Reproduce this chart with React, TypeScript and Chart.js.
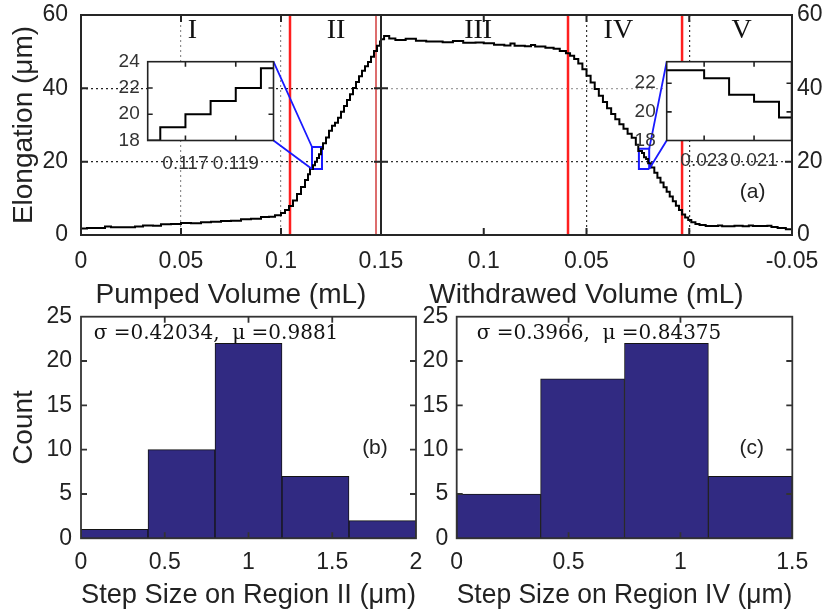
import { useEffect, useRef } from 'react';
import { Chart, registerables } from 'chart.js';

Chart.register(...registerables);

// ---------------- data ----------------
// (pumped volume mL, elongation µm)
const pumpedCurve: Array<[number, number]> = [
  [0, 1.8], [0.003, 1.9], [0.012, 2.3], [0.015, 2.1], [0.027, 2.3], [0.031, 2.6], [0.036, 2.5],
  [0.04, 2.9], [0.045, 3.0], [0.05, 3.3], [0.055, 3.2], [0.06, 3.5], [0.065, 3.6], [0.07, 3.8],
  [0.075, 3.9], [0.08, 4.3], [0.085, 4.4], [0.09, 4.9], [0.094, 5.0], [0.097, 5.4], [0.1, 6.0],
  [0.102, 6.8], [0.104, 7.9], [0.106, 9.4], [0.108, 11.2], [0.11, 13.1], [0.112, 15.0], [0.1135, 16.6],
  [0.1145, 18.0], [0.116, 19.0], [0.117, 20.0], [0.118, 21.0], [0.119, 22.0], [0.12, 23.5], [0.121, 25.0],
  [0.1225, 26.6], [0.124, 28.4], [0.1255, 29.8], [0.127, 30.6], [0.1285, 32.0], [0.13, 33.6], [0.1315, 35.2],
  [0.133, 36.8], [0.1345, 38.4], [0.136, 40.1], [0.1375, 41.7], [0.139, 43.3], [0.1405, 44.8], [0.142, 46.0],
  [0.1435, 47.2], [0.145, 48.6], [0.1465, 50.2], [0.148, 51.6], [0.1495, 52.8], [0.15, 53.4],
];
// (withdrawn volume mL, elongation µm)
const withdrawnCurve: Array<[number, number]> = [
  [0.15, 53.4], [0.1485, 54.3], [0.146, 53.6], [0.143, 53.2], [0.138, 53.5], [0.133, 53.0], [0.128, 52.8],
  [0.12, 52.6], [0.115, 52.9], [0.11, 52.4], [0.104, 52.5], [0.1, 52.3], [0.095, 51.9], [0.09, 51.7],
  [0.087, 52.2], [0.085, 51.6], [0.08, 51.5], [0.077, 51.8], [0.075, 51.4], [0.07, 51.1], [0.066, 50.8],
  [0.063, 50.2], [0.06, 49.6], [0.058, 48.9], [0.056, 48.0], [0.054, 46.8], [0.052, 45.2], [0.05, 43.4],
  [0.048, 41.6], [0.046, 39.8], [0.044, 38.0], [0.042, 36.3], [0.04, 34.6], [0.038, 33.0], [0.036, 31.6],
  [0.034, 30.2], [0.032, 29.0], [0.03, 27.6], [0.028, 26.5], [0.026, 24.6], [0.0248, 22.9], [0.023, 22.35],
  [0.022, 21.2], [0.021, 20.7], [0.02, 19.6], [0.0185, 18.4], [0.017, 17.0], [0.0155, 15.6], [0.014, 14.3],
  [0.0125, 13.0], [0.011, 11.8], [0.0095, 10.5], [0.008, 9.2], [0.0065, 8.0], [0.005, 6.8], [0.0035, 5.6],
  [0.002, 4.8], [0.0005, 4.1], [-0.001, 3.5], [-0.003, 3.0], [-0.005, 2.7], [-0.008, 2.45], [-0.014, 2.6],
  [-0.016, 2.4], [-0.022, 2.5], [-0.026, 2.4], [-0.029, 2.6], [-0.031, 2.45], [-0.038, 2.5], [-0.04, 2.2],
  [-0.043, 1.9], [-0.047, 1.6], [-0.05, 1.6],
];
const boundariesPumped = [0.1045, 0.1475];
const boundariesWithdrawn = [0.059, 0.0035];
const regionLabels = ['I', 'II', 'III', 'IV', 'V'];

const pumpedRange = [0, 0.15];
const withdrawnRange = [-0.05, 0.15];
const elongationRange = [0, 60];
const pumpedGridX = [0.05, 0.1];
const withdrawnGridX = [0.05, 0];
const elongationGridY = [20, 40];

const zoomIIX = [0.1155, 0.1205];
const zoomIIY = [18, 24];
const zoomIIXTicks = [0.117, 0.119];
const zoomIIYTicks = [18, 20, 22, 24];
const zoomIVX = [0.0195, 0.0245];
const zoomIVY = [18, 23.5];
const zoomIVXTicks = [0.023, 0.021];
const zoomIVYTicks = [18, 20, 22];

const histIIEdges = [0, 0.4, 0.8, 1.2, 1.6, 2.0];
const histIICounts = [1, 10, 22, 7, 2];
const histIVEdges = [0, 0.375, 0.75, 1.125, 1.5];
const histIVCounts = [5, 18, 22, 7];
const statsII = 'σ =0.42034,  μ =0.9881';
const statsIV = 'σ =0.3966,  μ =0.84375';

// ---------------- layout / style ----------------
const W = 832;
const H = 613;
const SANS = "'Liberation Sans', Arial, Helvetica, sans-serif";
const SERIF = "'Liberation Serif', 'Times New Roman', serif";
const MATH = "'DejaVu Serif', serif";
const TXT = '#222';

type Area = { left: number; top: number; right: number; bottom: number };
const MAIN_L: Area = { left: 81, top: 15, right: 381, bottom: 235 };
const MAIN_R: Area = { left: 381, top: 15, right: 792, bottom: 235 };
const INSET_L: Area = { left: 147.7, top: 61.7, right: 273.5, bottom: 140.5 };
const INSET_R: Area = { left: 666.7, top: 61.7, right: 791.5, bottom: 140.5 };
const HIST_L: Area = { left: 81, top: 316.7, right: 416, bottom: 538.3 };
const HIST_R: Area = { left: 456.7, top: 316.7, right: 792.3, bottom: 538.3 };

function pad(a: Area, yW: number, yPos: 'left' | 'right', xH: number) {
  return yPos === 'left'
    ? { left: a.left - yW, right: W - a.right, top: a.top, bottom: H - a.bottom - xH }
    : { left: a.left, right: W - a.right - yW, top: a.top, bottom: H - a.bottom - xH };
}
const near = (v: any, arr: number[]) => typeof v === 'number' && arr.some((a) => Math.abs(a - v) < 1e-9);
const fmt = (v: any) => String(Math.round(Number(v) * 1000) / 1000);
const pts = (arr: Array<[number, number]>) => arr.map(([x, y]) => ({ x, y }));
const vline = (x: number) => [{ x, y: elongationRange[0] }, { x, y: elongationRange[1] }];
const rect = (xr: number[], yr: number[]) => [
  { x: xr[0], y: yr[0] }, { x: xr[1], y: yr[0] }, { x: xr[1], y: yr[1] }, { x: xr[0], y: yr[1] }, { x: xr[0], y: yr[0] },
];
const bars = (edges: number[], counts: number[]) =>
  counts.map((c, i) => ({ x: (edges[i] + edges[i + 1]) / 2, y: c }));

// force exact axis box sizes and remove label overflow padding
const fixH = (h: number) => (s: any) => {
  s.height = h;
  s.paddingTop = 0; s.paddingBottom = 0; s.paddingLeft = 0; s.paddingRight = 0;
};
const fixW = (w: number) => (s: any) => {
  s.width = w;
  s.paddingTop = 0; s.paddingBottom = 0; s.paddingLeft = 0; s.paddingRight = 0;
};

// ---------------- plugins ----------------
const framePlugin = {
  id: 'frame',
  beforeDraw(chart: any, _a: any, o: any) {
    if (!o || !o.fill) return;
    const { ctx, chartArea: a } = chart;
    ctx.save();
    ctx.fillStyle = o.fill;
    ctx.fillRect(a.left, a.top, a.right - a.left, a.bottom - a.top);
    ctx.restore();
  },
  afterDraw(chart: any, _a: any, o: any) {
    if (!o || !o.enabled) return;
    const { ctx, chartArea: a } = chart;
    const len = o.tickLen ?? 6;
    const xs = chart.scales.x;
    const ys = chart.scales.y;
    ctx.save();
    ctx.setLineDash([]);
    ctx.strokeStyle = o.color ?? '#222';
    ctx.lineWidth = o.width ?? 2;
    ctx.beginPath();
    for (const t of xs.ticks) {
      const p = xs.getPixelForValue(t.value);
      if (p <= a.left + 2 || p >= a.right - 2) continue;
      ctx.moveTo(p, a.bottom); ctx.lineTo(p, a.bottom - len);
      ctx.moveTo(p, a.top); ctx.lineTo(p, a.top + len);
    }
    for (const t of ys.ticks) {
      const p = ys.getPixelForValue(t.value);
      if (p <= a.top + 2 || p >= a.bottom - 2) continue;
      ctx.moveTo(a.left, p); ctx.lineTo(a.left + len, p);
      ctx.moveTo(a.right, p); ctx.lineTo(a.right - len, p);
    }
    ctx.stroke();
    ctx.strokeRect(a.left, a.top, a.right - a.left, a.bottom - a.top);
    ctx.restore();
  },
};

const notesPlugin = {
  id: 'notes',
  afterDraw(chart: any, _a: any, o: any) {
    const items = o && o.items;
    if (!items) return;
    const { ctx } = chart;
    const xs = chart.scales.x;
    const ys = chart.scales.y;
    ctx.save();
    for (const it of items) {
      ctx.font = it.font;
      ctx.fillStyle = it.color ?? '#111';
      ctx.textAlign = 'center';
      ctx.textBaseline = 'middle';
      ctx.fillText(it.text, xs.getPixelForValue(it.x), ys.getPixelForValue(it.y));
    }
    ctx.restore();
  },
};

const connectPlugin = {
  id: 'connect',
  afterDatasetsDraw(chart: any, _a: any, o: any) {
    const lines = o && o.lines;
    if (!lines) return;
    const { ctx } = chart;
    const xs = chart.scales.x;
    const ys = chart.scales.y;
    ctx.save();
    ctx.strokeStyle = o.color ?? '#1a1aff';
    ctx.lineWidth = o.width ?? 1.5;
    ctx.beginPath();
    for (const l of lines) {
      ctx.moveTo(l.px, l.py);
      ctx.lineTo(xs.getPixelForValue(l.x), ys.getPixelForValue(l.y));
    }
    ctx.stroke();
    ctx.restore();
  },
};

const PLUGINS = [framePlugin, notesPlugin, connectPlugin];

function base(padding: any, plugins: any, scales: any) {
  return {
    responsive: false,
    animation: false,
    devicePixelRatio: 1,
    events: [],
    layout: { padding, autoPadding: false },
    plugins: { legend: { display: false }, tooltip: { enabled: false }, ...plugins },
    elements: { point: { radius: 0 }, line: { tension: 0 } },
    scales,
  };
}

const tickFont = (size: number) => ({ family: SANS, size });
const titleOpts = (text: string, p: any) => ({
  display: true, text, color: TXT, font: { family: SANS, size: 28, lineHeight: 1 }, padding: p,
});
const dotted = { display: false, dash: [2, 3] };
const BLACK_LINE = { borderColor: '#000', borderWidth: 2, stepped: true, pointRadius: 0, fill: false };
const RED = '#ff1f1f';
const BLUE = '#1a1aff';
const REGION_FONT = `28px ${SERIF}`;
const LABEL_Y = 55.6;

function mainLeftConfig(): any {
  return {
    type: 'line',
    data: {
      datasets: [
        { ...BLACK_LINE, data: pts(pumpedCurve) },
        { data: vline(boundariesPumped[0]), borderColor: RED, borderWidth: 2.5, pointRadius: 0 },
        { data: vline(boundariesPumped[1]), borderColor: '#d23c3c', borderWidth: 1.5, pointRadius: 0 },
        { data: rect(zoomIIX, zoomIIY), borderColor: BLUE, borderWidth: 2, pointRadius: 0 },
      ],
    },
    options: base(pad(MAIN_L, 81, 'left', 75), {
      frame: { enabled: true, width: 2, color: '#262626', tickLen: 7 },
      notes: {
        items: [
          { text: regionLabels[0], x: 0.0557, y: LABEL_Y, font: REGION_FONT },
          { text: regionLabels[1], x: 0.1275, y: LABEL_Y, font: REGION_FONT },
        ],
      },
      connect: {
        color: BLUE, width: 1.8,
        lines: [
          { px: INSET_L.right, py: INSET_L.top, x: zoomIIX[0], y: zoomIIY[1] },
          { px: INSET_L.right, py: INSET_L.bottom, x: zoomIIX[0], y: zoomIIY[0] },
        ],
      },
    }, {
      x: {
        type: 'linear', min: pumpedRange[0], max: pumpedRange[1],
        afterFit: fixH(75),
        ticks: { stepSize: 0.05, autoSkip: false, maxRotation: 0, padding: 13, color: TXT, font: tickFont(23), callback: fmt },
        grid: { drawTicks: false, lineWidth: 1.2, color: (c: any) => (near(c.tick && c.tick.value, pumpedGridX) ? '#8f8f8f' : 'rgba(0,0,0,0)') },
        border: dotted,
        title: titleOpts('Pumped Volume (mL)', { top: 0, bottom: 1 }),
      },
      y: {
        type: 'linear', position: 'left', min: elongationRange[0], max: elongationRange[1],
        afterFit: fixW(81),
        ticks: { stepSize: 20, padding: 13, color: TXT, font: tickFont(23), callback: fmt },
        grid: { drawTicks: false, lineWidth: 1.3, color: (c: any) => (near(c.tick && c.tick.value, elongationGridY) ? '#222' : 'rgba(0,0,0,0)') },
        border: dotted,
        title: titleOpts('Elongation (μm)', { top: 10, bottom: 0 }),
      },
    }),
    plugins: PLUGINS,
  };
}

function mainRightConfig(): any {
  return {
    type: 'line',
    data: {
      datasets: [
        { ...BLACK_LINE, data: pts(withdrawnCurve) },
        { data: vline(boundariesWithdrawn[0]), borderColor: RED, borderWidth: 2.5, pointRadius: 0 },
        { data: vline(boundariesWithdrawn[1]), borderColor: RED, borderWidth: 2.5, pointRadius: 0 },
        { data: rect(zoomIVX, zoomIVY), borderColor: BLUE, borderWidth: 2, pointRadius: 0 },
      ],
    },
    options: base(pad(MAIN_R, 40, 'right', 75), {
      frame: { enabled: true, width: 2, color: '#262626', tickLen: 7 },
      notes: {
        items: [
          { text: regionLabels[2], x: 0.1027, y: LABEL_Y, font: REGION_FONT },
          { text: regionLabels[3], x: 0.0345, y: LABEL_Y, font: REGION_FONT },
          { text: regionLabels[4], x: -0.0255, y: LABEL_Y, font: REGION_FONT },
          { text: '(a)', x: -0.0308, y: 11.7, font: `21px ${SANS}`, color: TXT },
        ],
      },
      connect: {
        color: BLUE, width: 1.8,
        lines: [
          { px: INSET_R.left, py: INSET_R.top, x: zoomIVX[0], y: zoomIVY[1] },
          { px: INSET_R.left, py: INSET_R.bottom, x: zoomIVX[0], y: zoomIVY[0] },
        ],
      },
    }, {
      x: {
        type: 'linear', reverse: true, min: withdrawnRange[0], max: withdrawnRange[1],
        afterFit: fixH(75),
        ticks: {
          stepSize: 0.05, autoSkip: false, maxRotation: 0, padding: 13, color: TXT, font: tickFont(23),
          callback: (v: any) => (near(v, [withdrawnRange[1]]) ? '' : fmt(v)),
        },
        grid: { drawTicks: false, lineWidth: 1.2, color: (c: any) => (near(c.tick && c.tick.value, withdrawnGridX) ? '#333' : 'rgba(0,0,0,0)') },
        border: dotted,
        title: titleOpts('Withdrawed Volume (mL)', { top: 0, bottom: 1 }),
      },
      y: {
        type: 'linear', position: 'right', min: elongationRange[0], max: elongationRange[1],
        afterFit: fixW(40),
        ticks: { stepSize: 20, padding: 5, color: TXT, font: tickFont(23), callback: fmt },
        grid: {
          drawTicks: false, lineWidth: 1.2,
          color: (c: any) => {
            const v = c.tick && c.tick.value;
            if (near(v, [elongationGridY[0]])) return '#333';
            if (near(v, [elongationGridY[1]])) return '#a0a0a0';
            return 'rgba(0,0,0,0)';
          },
        },
        border: dotted,
      },
    }),
    plugins: PLUGINS,
  };
}

function insetConfig(area: Area, curve: Array<[number, number]>, xr: number[], yr: number[], xt: number[], yt: number[], reverse: boolean, yPad: number, xPad: number): any {
  return {
    type: 'line',
    data: { datasets: [{ ...BLACK_LINE, data: pts(curve) }] },
    options: base(pad(area, 40, 'left', 30), {
      frame: { enabled: true, fill: '#ffffff', width: 1.6, color: '#222', tickLen: 5 },
    }, {
      x: {
        type: 'linear', reverse, min: xr[0], max: xr[1],
        afterFit: fixH(30),
        afterBuildTicks: (s: any) => { s.ticks = xt.map((value) => ({ value })); },
        ticks: { autoSkip: false, maxRotation: 0, padding: xPad, color: '#333', font: tickFont(19), callback: (v: any) => Number(v).toFixed(3) },
        grid: { display: false, drawTicks: false },
        border: { display: false },
      },
      y: {
        type: 'linear', position: 'left', min: yr[0], max: yr[1],
        afterFit: fixW(40),
        afterBuildTicks: (s: any) => { s.ticks = yt.map((value) => ({ value })); },
        ticks: { padding: yPad, color: '#333', font: tickFont(19), callback: fmt },
        grid: { display: false, drawTicks: false },
        border: { display: false },
      },
    }),
    plugins: PLUGINS,
  };
}

function histConfig(area: Area, edges: number[], counts: number[], title: string, stats: string, statsX: number, tag: string, tagX: number, showY: boolean, yPad: number): any {
  const yW = showY ? 81 : 40;
  return {
    type: 'bar',
    data: {
      datasets: [{
        data: bars(edges, counts), backgroundColor: '#312a82', borderColor: '#141414', borderWidth: 1,
        borderSkipped: false, barPercentage: 1, categoryPercentage: 1,
      }],
    },
    options: base(pad(area, yW, 'left', 71), {
      frame: { enabled: true, width: 1.8, color: '#333', tickLen: 6 },
      notes: {
        items: [
          { text: stats, x: statsX, y: 23.1, font: `20px ${MATH}`, color: '#111' },
          { text: tag, x: tagX, y: 10.2, font: `21px ${SANS}`, color: TXT },
        ],
      },
    }, {
      x: {
        type: 'linear', min: edges[0], max: edges[edges.length - 1], offset: false,
        afterFit: fixH(71),
        ticks: { stepSize: 0.5, autoSkip: false, maxRotation: 0, padding: 11, color: TXT, font: tickFont(23), callback: fmt },
        grid: { display: false, drawTicks: false, offset: false },
        border: { display: false },
        title: titleOpts(title, { top: 0, bottom: 0 }),
      },
      y: {
        type: 'linear', position: 'left', min: 0, max: 25,
        afterFit: fixW(yW),
        ticks: { stepSize: 5, padding: yPad, color: TXT, font: tickFont(23), callback: fmt },
        grid: { display: false, drawTicks: false },
        border: { display: false },
        title: showY ? titleOpts('Count', { top: 10, bottom: 0 }) : { display: false },
      },
    }),
    plugins: PLUGINS,
  };
}

export default function App() {
  const r0 = useRef<HTMLCanvasElement>(null);
  const r1 = useRef<HTMLCanvasElement>(null);
  const r2 = useRef<HTMLCanvasElement>(null);
  const r3 = useRef<HTMLCanvasElement>(null);
  const r4 = useRef<HTMLCanvasElement>(null);
  const r5 = useRef<HTMLCanvasElement>(null);
  const refs = [r0, r1, r2, r3, r4, r5];

  useEffect(() => {
    const configs = [
      mainLeftConfig(),
      mainRightConfig(),
      histConfig(HIST_L, histIIEdges, histIICounts, 'Step Size on Region II (μm)', statsII, 0.806, '(b)', 1.755, true, 9),
      histConfig(HIST_R, histIVEdges, histIVCounts, 'Step Size on Region IV (μm)', statsIV, 0.636, '(c)', 1.3185, false, 8.5),
      insetConfig(INSET_L, pumpedCurve, zoomIIX, zoomIIY, zoomIIXTicks, zoomIIYTicks, false, 8, 11.6),
      insetConfig(INSET_R, withdrawnCurve, zoomIVX, zoomIVY, zoomIVXTicks, zoomIVYTicks, true, 11, 9),
    ];
    const charts = refs.map((r, i) => new Chart(r.current as HTMLCanvasElement, configs[i]));
    return () => charts.forEach((c) => c.destroy());
  }, []);

  return (
    <div style={{ position: 'absolute', left: 0, top: 0, width: W, height: H, background: '#fff', overflow: 'hidden' }}>
      {refs.map((r, i) => (
        <canvas key={i} ref={r} width={W} height={H} style={{ position: 'absolute', left: 0, top: 0, width: W, height: H }} />
      ))}
    </div>
  );
}
